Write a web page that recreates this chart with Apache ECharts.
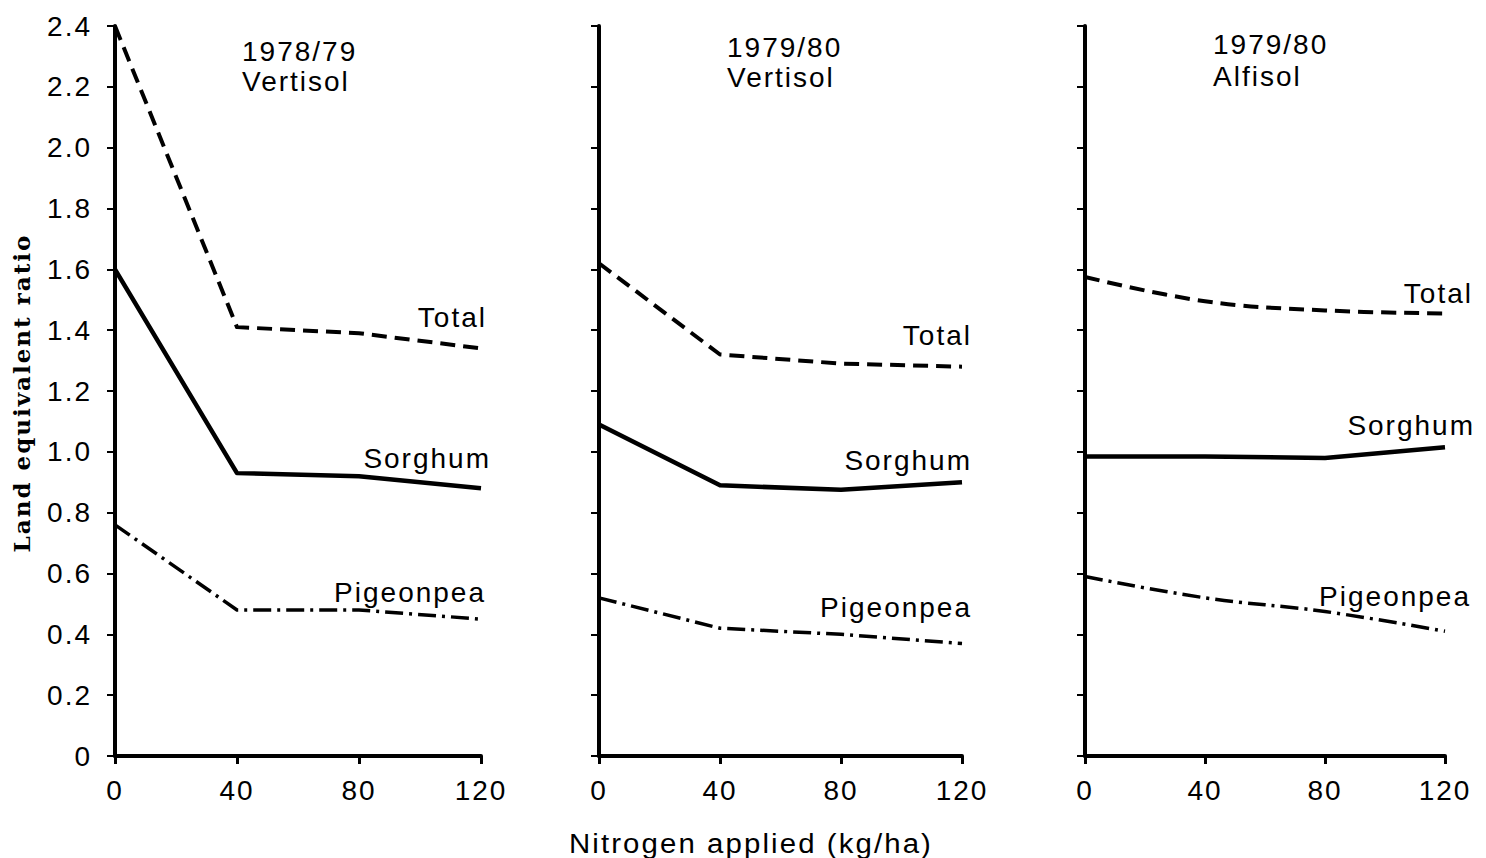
<!DOCTYPE html>
<html>
<head>
<meta charset="utf-8">
<script src="https://cdn.jsdelivr.net/npm/echarts@6/dist/echarts.min.js"></script>
<style>
html,body{margin:0;padding:0;background:#fff;}
#main{width:1486px;height:858px;}
#main text{letter-spacing:2px;}
</style>
</head>
<body>
<div id="main"></div>
<script>
// ---- data ----
const nitrogen = [0, 40, 80, 120];
const panelTitleYears = ['1978/79', '1979/80', '1979/80'];
const panelTitleSoils = ['Vertisol', 'Vertisol', 'Alfisol'];
const seriesNames = ['Total', 'Sorghum', 'Pigeonpea'];

const total7879 = [2.40, 1.41, 1.39, 1.34];
const sorghum7879 = [1.60, 0.93, 0.92, 0.88];
const pigeonpea7879 = [0.76, 0.48, 0.48, 0.45];

const totalVert80 = [1.62, 1.32, 1.29, 1.28];
const sorghumVert80 = [1.09, 0.89, 0.875, 0.90];
const pigeonpeaVert80 = [0.52, 0.42, 0.40, 0.37];

const totalAlf80 = [1.575, 1.495, 1.465, 1.455];
const sorghumAlf80 = [0.985, 0.985, 0.98, 1.015];
const pigeonpeaAlf80 = [0.59, 0.52, 0.475, 0.41];

const yMin = 0, yMax = 2.4, yStep = 0.2;
const xMin = 0, xMax = 120, xStep = 40;
const yAxisTitle = 'Land equivalent ratio';
const xAxisTitle = 'Nitrogen applied (kg/ha)';

// ---- layout ----
const panels = [
  {data: [total7879, sorghum7879, pigeonpea7879], smooth: [false, false, false]},
  {data: [totalVert80, sorghumVert80, pigeonpeaVert80], smooth: [false, false, false]},
  {data: [totalAlf80, sorghumAlf80, pigeonpeaAlf80], smooth: [true, false, true]}
];
const grids = [
  {left: 115, top: 26, width: 366, height: 730},
  {left: 599, top: 26, width: 363, height: 730},
  {left: 1085, top: 26, width: 360, height: 730}
];
const titlePos = [[242, 51, 81], [727, 47, 77], [1213, 44, 76]];
// label offsets relative to last point (right edge, vertical center)
const labelOffsets = [
  [[6, -31], [10, -30], [5, -27]],
  [[10, -31], [10, -22], [10, -36]],
  [[28, -20], [30, -22], [26, -35]]
];
const lineStyles = [
  {type: [15, 8], width: 4},
  {type: 'solid', width: 4.5},
  {type: [18, 6, 3, 6], width: 3.5}
];
const FONT = '"Liberation Sans", Arial, sans-serif';

const chart = echarts.init(document.getElementById('main'), null, {renderer: 'svg'});

const xAxes = [], yAxes = [], series = [];
panels.forEach((p, i) => {
  xAxes.push({
    type: 'value', gridIndex: i, min: xMin, max: xMax, interval: xStep,
    splitLine: {show: false},
    axisLine: {show: true, lineStyle: {color: '#000', width: 4}},
    axisTick: {show: true, length: 8, lineStyle: {color: '#000', width: 3}},
    axisLabel: {color: '#000', fontFamily: FONT, fontSize: 28, margin: 20}
  });
  yAxes.push({
    type: 'value', gridIndex: i, min: yMin, max: yMax, interval: yStep,
    splitLine: {show: false},
    axisLine: {show: true, lineStyle: {color: '#000', width: 4}},
    axisTick: {show: true, length: 8, lineStyle: {color: '#000', width: 2}},
    axisLabel: {
      show: i === 0, color: '#000', fontFamily: FONT, fontSize: 28, margin: 23,
      formatter: v => v === 0 ? '0' : v.toFixed(1)
    }
  });
  p.data.forEach((vals, k) => {
    series.push({
      name: seriesNames[k] + ' ' + i,
      type: 'line', xAxisIndex: i, yAxisIndex: i,
      data: nitrogen.map((x, j) => [x, vals[j]]),
      showSymbol: false, symbol: 'none',
      smooth: p.smooth[k] ? 0.4 : false,
      lineStyle: Object.assign({color: '#000', cap: 'butt', join: 'round'}, lineStyles[k]),
      animation: false, silent: true
    });
  });
});

chart.setOption({
  backgroundColor: '#fff',
  animation: false,
  grid: grids,
  xAxis: xAxes,
  yAxis: yAxes,
  series: series
});

const graphics = [];
panels.forEach((p, i) => {
  graphics.push({
    type: 'text', x: titlePos[i][0], y: titlePos[i][1],
    style: {text: panelTitleYears[i], font: '28px ' + FONT, fill: '#000', textAlign: 'left', textVerticalAlign: 'middle'}
  });
  graphics.push({
    type: 'text', x: titlePos[i][0], y: titlePos[i][2],
    style: {text: panelTitleSoils[i], font: '28px ' + FONT, fill: '#000', textAlign: 'left', textVerticalAlign: 'middle'}
  });
  p.data.forEach((vals, k) => {
    const last = nitrogen.length - 1;
    const px = chart.convertToPixel({gridIndex: i}, [nitrogen[last], vals[last]]);
    graphics.push({
      type: 'text', x: px[0] + labelOffsets[i][k][0], y: px[1] + labelOffsets[i][k][1],
      style: {text: seriesNames[k], font: '28px ' + FONT, fill: '#000', textAlign: 'right', textVerticalAlign: 'middle'}
    });
  });
});
graphics.push({
  type: 'text', x: 21, y: 393, rotation: Math.PI / 2,
  style: {text: yAxisTitle, font: 'bold 23px "DejaVu Serif", serif', fill: '#000', textAlign: 'center', textVerticalAlign: 'middle'}
});
graphics.push({
  type: 'text', x: 751, y: 843, scaleX: 1.05,
  style: {text: xAxisTitle, font: '28px ' + FONT, fill: '#000', textAlign: 'center', textVerticalAlign: 'middle'}
});
chart.setOption({graphic: graphics});
</script>
</body>
</html>
